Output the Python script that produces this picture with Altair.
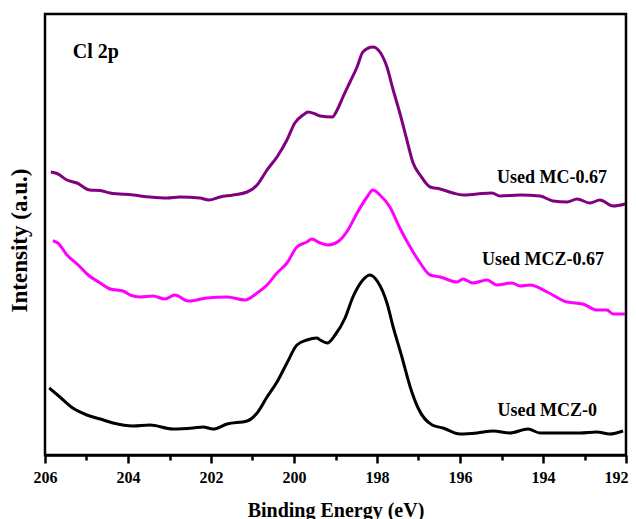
import altair as alt
import pandas as pd

# Binding energies (eV) and intensities (a.u.)
mc_energy = [205.86, 205.71, 205.47, 205.23, 204.92, 204.67, 204.43, 203.88, 203.47, 203.06,
             202.75, 202.27, 202.05, 201.78, 201.47, 201.13, 200.89, 200.65, 200.41, 200.17,
             199.98, 199.78, 199.66, 199.49, 199.37, 199.08, 198.96, 198.82, 198.65, 198.48,
             198.34, 198.10, 197.93, 197.76, 197.61, 197.45, 197.28, 197.13, 196.96, 196.72,
             196.48, 196.17, 195.93, 195.59, 195.23, 195.04, 194.55, 194.07, 193.76, 193.42,
             193.18, 192.87, 192.63, 192.31, 192.02]
mc_intensity = [283, 281.5, 275, 272, 265, 264.5, 262, 260, 258, 257,
                258, 257, 255, 258, 260, 263, 270, 285, 298, 315,
                332, 340, 343, 341, 339, 338, 345, 358, 373, 388,
                403, 408, 403, 388, 365, 342, 315, 292, 280, 268,
                266, 262, 260, 261, 262, 259, 260, 259, 254, 253,
                256, 252, 255, 249, 251]

mcz067_energy = [205.81, 205.69, 205.47, 205.20, 204.96, 204.67, 204.43, 204.12, 203.95, 203.71,
                 203.40, 203.11, 202.87, 202.55, 202.10, 201.61, 201.18, 200.89, 200.65, 200.41,
                 200.17, 199.93, 199.69, 199.57, 199.37, 199.18, 198.89, 198.70, 198.48, 198.24,
                 198.10, 197.93, 197.69, 197.45, 197.20, 196.96, 196.72, 196.48, 196.07, 195.93,
                 195.69, 195.35, 195.11, 194.75, 194.55, 194.31, 193.90, 193.42, 193.04, 192.70,
                 192.46, 192.31, 192.02]
mcz067_intensity = [214.3, 212, 200, 190, 180, 172, 166, 164, 160, 158,
                    159, 156, 160, 154, 157, 158, 155, 162, 170, 182,
                    192, 208, 213, 216, 212, 210, 215, 225, 242, 258,
                    265, 260, 248, 227, 208, 192, 180, 178, 173, 176,
                    172, 175, 170, 172, 169, 170, 163, 153, 151, 145,
                    145, 141, 141]

mcz0_energy = [205.90, 205.64, 205.33, 204.99, 204.67, 204.36, 203.88, 203.47, 202.92, 202.43,
               202.19, 201.95, 201.61, 201.13, 200.89, 200.65, 200.41, 200.17, 199.93, 199.69,
               199.45, 199.37, 199.20, 199.01, 198.77, 198.58, 198.34, 198.17, 197.98, 197.76,
               197.61, 197.40, 197.20, 197.01, 196.67, 196.41, 196.00, 195.59, 195.20, 194.80,
               194.36, 194.07, 193.59, 193.11, 192.70, 192.39, 192.07]
mcz0_intensity = [67, 58, 47, 40, 36, 32, 29, 30, 26, 27,
                  28, 26, 31, 34, 42, 58, 73, 92, 110, 115,
                  117, 115, 112, 120, 137, 158, 175, 180, 173, 152,
                  128, 98, 68, 47, 30, 27, 21, 22, 24, 22,
                  26, 22, 22, 22, 23, 21, 24]

series_names = ["Used MC-0.67", "Used MCZ-0.67", "Used MCZ-0"]
series_colors = ["#800080", "#FF00FF", "#000000"]

x_ticks = list(range(192, 207))

label_text = ["Used MC-0.67", "Used MCZ-0.67", "Used MCZ-0"]
label_energy = [192.46, 192.53, 192.70]
label_intensity = [277, 195, 44.5]

frames = []
for name, e, i in [(series_names[0], mc_energy, mc_intensity),
                   (series_names[1], mcz067_energy, mcz067_intensity),
                   (series_names[2], mcz0_energy, mcz0_intensity)]:
    frames.append(pd.DataFrame({"energy": e, "intensity": i, "series": name}))
df = pd.concat(frames, ignore_index=True)

labels_df = pd.DataFrame({"energy": label_energy, "intensity": label_intensity, "text": label_text})
title_df = pd.DataFrame({"energy": [205.33], "intensity": [403], "text": ["Cl 2p"]})

FONT = "Liberation Serif"

x_scale = alt.Scale(domain=[192, 206], reverse=True, nice=False, zero=False)
y_scale = alt.Scale(domain=[0, 441], nice=False, zero=False)

x_axis = alt.Axis(
    values=x_ticks,
    labelExpr="datum.value % 2 == 0 ? datum.label : ''",
    tickSize={"condition": {"test": "datum.value % 2 != 0", "value": 5}, "value": 8},
    labelAlign={"condition": {"test": "datum.value == 192", "value": "right"}, "value": "center"},
    labelOffset={"condition": {"test": "datum.value == 192", "value": 2}, "value": 0},
    tickWidth=2.5,
    tickColor="black",
    domainColor="black",
    domainWidth=2.5,
    labelFont=FONT,
    labelFontWeight="bold",
    labelFontSize=16,
    labelColor="black",
    labelFlush=False,
    labelOverlap=False,
    labelPadding=6,
    grid=False,
    title="Binding Energy (eV)",
    titleFont=FONT,
    titleFontWeight="bold",
    titleFontSize=20,
    titleColor="black",
    titleBaseline="alphabetic",
    titleY=61,
)

y_axis = alt.Axis(
    labels=False,
    ticks=False,
    domain=False,
    grid=False,
    title="Intensity (a.u.)",
    titleFont=FONT,
    titleFontWeight="bold",
    titleFontSize=23,
    titleColor="black",
    titleAngle=270,
    titleAlign="center",
    titleBaseline="middle",
    titleX=-26,
    titleY=226,
)

lines = alt.Chart(df).mark_line(strokeWidth=3, interpolate="monotone").encode(
    x=alt.X("energy:Q", scale=x_scale, axis=x_axis),
    y=alt.Y("intensity:Q", scale=y_scale, axis=y_axis),
    color=alt.Color("series:N", scale=alt.Scale(domain=series_names, range=series_colors), legend=None),
    detail="series:N",
)

labels = alt.Chart(labels_df).mark_text(
    align="right", baseline="middle", font=FONT, fontWeight="bold", fontSize=18, color="black"
).encode(
    x=alt.X("energy:Q", scale=x_scale),
    y=alt.Y("intensity:Q", scale=y_scale),
    text="text:N",
)

panel_title = alt.Chart(title_df).mark_text(
    align="left", baseline="middle", font=FONT, fontWeight="bold", fontSize=20, color="black"
).encode(
    x=alt.X("energy:Q", scale=x_scale),
    y=alt.Y("intensity:Q", scale=y_scale),
    text="text:N",
)

chart = alt.layer(lines, labels, panel_title).properties(
    width=581,
    height=441,
    padding={"left": 37, "top": 6, "right": 2, "bottom": 64},
    autosize=alt.AutoSizeParams(type="none"),
    background="white",
).configure_view(
    stroke="black",
    strokeWidth=2.5,
)

chart.save("out.html", embed_options={"renderer": "svg", "actions": False})
